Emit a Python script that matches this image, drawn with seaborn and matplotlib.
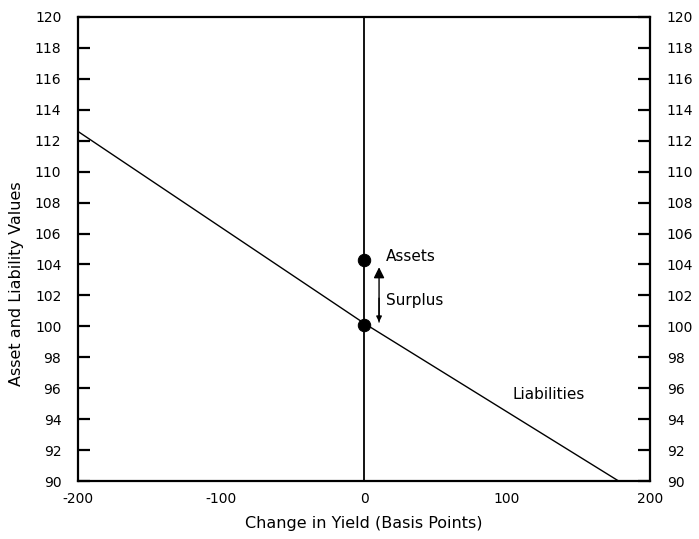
import numpy as np
import pandas as pd
import matplotlib
matplotlib.use("Agg")
import matplotlib.pyplot as plt
import seaborn as sns

# liability value line
yield_change = [-200, 0, 178]
liability_value = [112.6, 100.2, 90.0]

# the two dots at zero yield change
point_x = [0, 0]
point_y = [104.3, 100.1]

x_labels = [-200, -100, 0, 100, 200]
x_minor = list(range(-180, 181, 20))
y_ticks = list(range(90, 121, 2))

sns.set_style("white")
plt.rcParams["font.family"] = ["DejaVu Sans"]
plt.rcParams["font.size"] = 10
plt.rcParams["text.color"] = "black"
plt.rcParams["axes.labelcolor"] = "black"
plt.rcParams["xtick.color"] = "black"
plt.rcParams["ytick.color"] = "black"

fig = plt.figure(figsize=(6.99, 5.39), dpi=100)
ax = fig.add_axes([0.1116, 0.1076, 0.8184, 0.8609])

line_df = pd.DataFrame({"x": yield_change, "y": liability_value})
sns.lineplot(data=line_df, x="x", y="y", color="black", linewidth=1.0, ax=ax)

# vertical line at zero change
ax.axvline(0, color="black", linewidth=1.3, zorder=1)

pts = pd.DataFrame({"x": point_x, "y": point_y})
sns.scatterplot(data=pts, x="x", y="y", color="black", s=80, edgecolor="black", zorder=3, ax=ax)

# surplus arrow
ax.annotate("", xy=(10.5, 104.0), xytext=(10.5, 100.1),
            arrowprops=dict(arrowstyle="-|>", color="black", lw=1.0, mutation_scale=16))
ax.annotate("", xy=(10.5, 100.1), xytext=(10.5, 102.0),
            arrowprops=dict(arrowstyle="-|>", color="black", lw=1.0, mutation_scale=8))

ax.text(15.5, 104.5, "Assets", fontsize=11, va="center", ha="left")
ax.text(15.5, 101.7, "Surplus", fontsize=11, va="center", ha="left")
ax.text(104, 95.6, "Liabilities", fontsize=11, va="center", ha="left")

ax.set_xlim(-200, 200)
ax.set_ylim(90, 120)

ax.set_xticks(x_labels)
ax.set_xticklabels([str(v) for v in x_labels])
ax.set_xticks(x_minor, minor=True)
ax.tick_params(axis="x", which="major", length=0, pad=8)
ax.tick_params(axis="x", which="minor", direction="in", length=7, width=1.6, top=False)

ax.set_yticks(y_ticks)
ax.tick_params(axis="y", which="major", direction="in", length=8.5, width=1.6,
               left=True, right=True, labelleft=True, labelright=True, pad=12)

for s in ax.spines.values():
    s.set_linewidth(1.6)
    s.set_color("black")

ax.set_xlabel("Change in Yield (Basis Points)", fontsize=11.5, labelpad=7)
ax.set_ylabel("Asset and Liability Values", fontsize=11.5)
ax.yaxis.set_label_coords(-0.094, 0.425)

fig.savefig("out.png", dpi=100)
